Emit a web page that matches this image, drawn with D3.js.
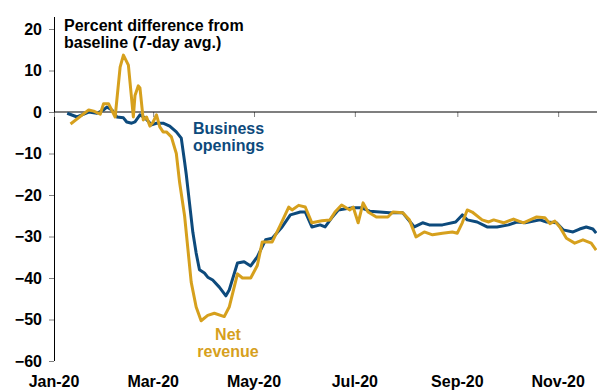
<!DOCTYPE html>
<html>
<head>
<meta charset="utf-8">
<script src="https://cdn.jsdelivr.net/npm/d3@7"></script>
<style>
  html, body { margin: 0; padding: 0; background: #fff; }
  svg { display: block; font-family: "Liberation Sans", Arial, sans-serif; }
</style>
</head>
<body>
<svg id="chart" width="597" height="392"></svg>
<script>
// Business openings, percent difference from baseline (7-day avg.)
const openingsDates = [
  "2020-01-09","2020-01-15","2020-01-22","2020-01-27","2020-01-31","2020-02-02","2020-02-05",
  "2020-02-08","2020-02-12","2020-02-14","2020-02-17","2020-02-19","2020-02-22","2020-02-25",
  "2020-02-29","2020-03-03","2020-03-07","2020-03-11","2020-03-15","2020-03-18","2020-03-20",
  "2020-03-21","2020-03-23","2020-03-25","2020-03-27","2020-03-29","2020-04-01","2020-04-03",
  "2020-04-06","2020-04-10","2020-04-14","2020-04-16","2020-04-21","2020-04-25","2020-04-29",
  "2020-05-03","2020-05-08","2020-05-12","2020-05-18","2020-05-23","2020-05-29","2020-06-01",
  "2020-06-05","2020-06-10","2020-06-13","2020-06-17","2020-06-21","2020-06-29","2020-07-05",
  "2020-07-10","2020-07-22","2020-07-30","2020-08-06","2020-08-11","2020-08-15","2020-08-23",
  "2020-08-31","2020-09-04","2020-09-07","2020-09-13","2020-09-19","2020-09-25","2020-10-02",
  "2020-10-07","2020-10-12","2020-10-21","2020-10-25","2020-10-31","2020-11-04","2020-11-10",
  "2020-11-14","2020-11-18","2020-11-22","2020-11-24"
];
const openingsValues = [
  -0.3, -1.2, 0.0, -0.3, 0.5, 1.2, 0.5,
  -1.2, -1.4, -2.4, -2.7, -2.4, -0.7, -1.4,
  -3.1, -2.7, -2.7, -3.4, -4.8, -6.3, -12.0,
  -15.0, -22.0, -29.0, -34.0, -38.0, -38.8, -39.8,
  -40.5, -42.2, -44.3, -42.9, -36.4, -36.1, -37.1,
  -34.9, -30.8, -30.4, -27.7, -24.8, -24.1, -24.1,
  -27.7, -27.2, -27.7, -25.5, -23.6, -23.1, -23.1,
  -23.9, -24.3, -24.3, -27.7, -26.7, -27.2, -27.2,
  -26.5, -24.8, -26.0, -26.5, -27.7, -27.7, -27.2,
  -26.5, -26.7, -26.0, -26.5, -26.7, -28.4, -28.9,
  -28.2, -27.7, -28.2, -29.2
];

// Net revenue, percent difference from baseline (7-day avg.)
const revenueDates = [
  "2020-01-11","2020-01-22","2020-01-25","2020-01-29","2020-01-31","2020-02-03","2020-02-07",
  "2020-02-10","2020-02-12","2020-02-15","2020-02-18","2020-02-19","2020-02-21","2020-02-22",
  "2020-02-24","2020-02-26","2020-02-28","2020-03-01","2020-03-03","2020-03-05","2020-03-07",
  "2020-03-09","2020-03-12","2020-03-15","2020-03-17","2020-03-20","2020-03-22","2020-03-24",
  "2020-03-27","2020-03-30","2020-04-03","2020-04-07","2020-04-13","2020-04-16","2020-04-21",
  "2020-04-24","2020-04-29","2020-05-03","2020-05-06","2020-05-12","2020-05-17","2020-05-22",
  "2020-05-24","2020-05-28","2020-06-01","2020-06-05","2020-06-11","2020-06-16","2020-06-19",
  "2020-06-23","2020-06-28","2020-06-30","2020-07-03","2020-07-06","2020-07-09","2020-07-14",
  "2020-07-21","2020-07-24","2020-07-30","2020-08-03","2020-08-07","2020-08-12","2020-08-17",
  "2020-08-23","2020-08-29","2020-09-01","2020-09-04","2020-09-07","2020-09-10","2020-09-16",
  "2020-09-20","2020-09-23","2020-09-29","2020-10-05","2020-10-11","2020-10-19","2020-10-24",
  "2020-10-27","2020-10-30","2020-11-02","2020-11-06","2020-11-11","2020-11-16","2020-11-21",
  "2020-11-24"
];
const revenueValues = [
  -2.9, 0.5, 0.2, -0.5, 2.0, 2.0, -1.2,
  10.8, 13.7, 11.3, -1.2, 4.0, 6.3, 5.8,
  -1.9, -1.2, -3.4, -2.4, -0.7, -3.6, -4.8,
  -4.8, -6.0, -10.0, -17.0, -25.0, -33.0, -41.0,
  -47.0, -50.3, -49.0, -48.5, -49.3, -47.0, -39.0,
  -40.0, -40.0, -37.0, -31.3, -31.3, -27.2, -22.9,
  -23.6, -22.5, -22.9, -26.7, -26.2, -26.0, -24.1,
  -22.4, -23.6, -22.9, -26.7, -21.9, -24.1, -25.3,
  -25.3, -24.1, -24.3, -26.0, -30.1, -28.9, -29.6,
  -29.2, -28.9, -29.2, -26.7, -23.6, -24.1, -26.0,
  -26.5, -26.0, -26.7, -25.8, -26.7, -25.3, -25.5,
  -26.9, -26.3, -27.7, -30.4, -31.6, -30.8, -31.6,
  -33.3
];

// Axis ticks
const yTicks = [20, 10, 0, -10, -20, -30, -40, -50, -60];
const xTickDates = ["2020-01-01","2020-03-01","2020-05-01","2020-07-01","2020-09-01","2020-11-01"];
const xTickLabels = ["Jan-20","Mar-20","May-20","Jul-20","Sep-20","Nov-20"];

const parse = d3.utcParse("%Y-%m-%d");
const BLUE = "#0d4a7c";
const GOLD = "#d6a01d";

const svg = d3.select("#chart");

const x = d3.scaleUtc()
  .domain([parse("2020-01-01"), new Date(Date.UTC(2020, 10, 24, 12))])
  .range([54, 597]);
const y = d3.scaleLinear().domain([-60, 20]).range([361, 29]);

// Y axis
const yAxis = svg.append("g")
  .attr("transform", "translate(54,0)")
  .call(d3.axisLeft(y).tickValues(yTicks).tickSize(5).tickPadding(7).tickFormat(d3.format("d")));
yAxis.select(".domain").remove();
yAxis.selectAll(".tick line").attr("stroke", "#808080");
yAxis.selectAll(".tick text")
  .attr("font-size", 16).attr("font-weight", "bold").attr("fill", "#000")
  .attr("font-family", "Liberation Sans, Arial, sans-serif");
svg.append("line")
  .attr("x1", 54.5).attr("x2", 54.5).attr("y1", 17).attr("y2", y(-60))
  .attr("stroke", "#000").attr("stroke-width", 1);

// X axis along the zero line, labels at the bottom
const xAxis = svg.append("g")
  .attr("transform", `translate(0,${y(0)})`)
  .call(d3.axisBottom(x).tickValues(xTickDates.map(parse)).tickSize(5).tickFormat(""));
xAxis.select(".domain").remove();
xAxis.selectAll(".tick line").attr("stroke", "#808080");
svg.append("line")
  .attr("x1", 54).attr("x2", 597).attr("y1", y(0)).attr("y2", y(0))
  .attr("stroke", "#000").attr("stroke-width", 1.2);

svg.append("g").selectAll("text")
  .data(xTickDates)
  .join("text")
  .attr("x", d => x(parse(d)))
  .attr("y", 387)
  .attr("text-anchor", "middle")
  .attr("font-size", 16).attr("font-weight", "bold").attr("fill", "#000")
  .text((d, i) => xTickLabels[i]);

// Series lines
const line = d3.line()
  .x(d => x(d.date))
  .y(d => y(d.value));

const openings = openingsDates.map((d, i) => ({ date: parse(d), value: openingsValues[i] }));
const revenue = revenueDates.map((d, i) => ({ date: parse(d), value: revenueValues[i] }));

svg.append("path").datum(openings)
  .attr("d", line).attr("fill", "none")
  .attr("stroke", BLUE).attr("stroke-width", 3).attr("stroke-linejoin", "round");
svg.append("path").datum(revenue)
  .attr("d", line).attr("fill", "none")
  .attr("stroke", GOLD).attr("stroke-width", 3).attr("stroke-linejoin", "round");

// Title and series labels
const title = svg.append("text")
  .attr("font-size", 16).attr("font-weight", "bold").attr("fill", "#000");
title.append("tspan").attr("x", 64).attr("y", 31).text("Percent difference from");
title.append("tspan").attr("x", 64).attr("y", 48).text("baseline (7-day avg.)");

const bizLabel = svg.append("text")
  .attr("font-size", 16).attr("font-weight", "bold").attr("fill", BLUE);
bizLabel.append("tspan").attr("x", 193).attr("y", 134).text("Business");
bizLabel.append("tspan").attr("x", 193).attr("y", 151).text("openings");

const revLabel = svg.append("text")
  .attr("font-size", 16).attr("font-weight", "bold").attr("fill", GOLD)
  .attr("text-anchor", "middle");
revLabel.append("tspan").attr("x", 228).attr("y", 340).text("Net");
revLabel.append("tspan").attr("x", 228).attr("y", 357).text("revenue");
</script>
</body>
</html>
